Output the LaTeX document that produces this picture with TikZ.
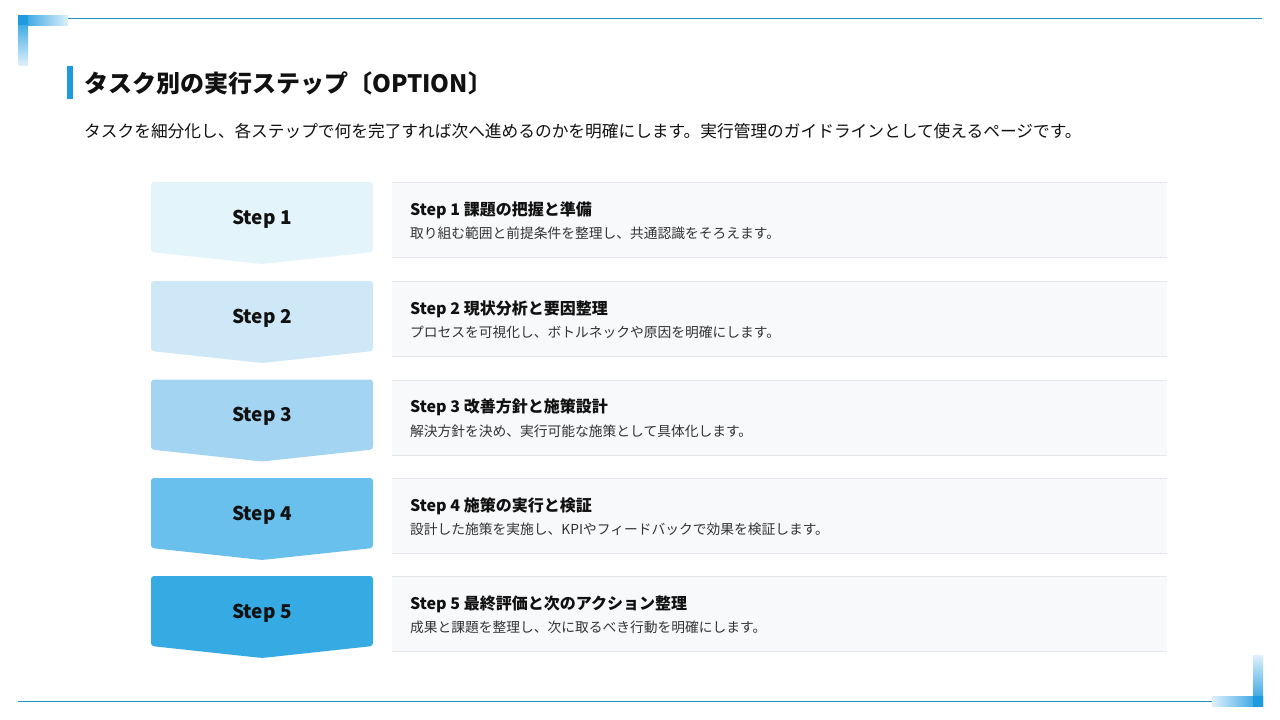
\documentclass[tikz,border=0pt]{standalone}
\usepackage{fontspec}
\setmainfont{Noto Sans CJK JP}
\definecolor{accent}{HTML}{1E9BDF}
\definecolor{rule}{HTML}{1B93C8}
\definecolor{lite}{HTML}{DDF0FB}
\definecolor{cA}{HTML}{E3F4FA}
\definecolor{cB}{HTML}{CFE8F7}
\definecolor{cC}{HTML}{A3D5F2}
\definecolor{cD}{HTML}{6AC0EC}
\definecolor{cE}{HTML}{36AAE3}
\definecolor{boxfill}{HTML}{F8F9FB}
\definecolor{boxline}{HTML}{E4E7EB}
\definecolor{ink}{HTML}{111111}
\definecolor{soft}{HTML}{333333}
\tikzset{
  chevron/.style={rounded corners=3pt},
  steplabel/.style={font=\bfseries\fontsize{19}{22}\selectfont, text=ink, anchor=base, inner sep=0},
  boxtitle/.style={font=\bfseries\fontsize{16}{19}\selectfont, text=ink, anchor=base west, inner sep=0},
  boxdesc/.style={font=\fontsize{13.75}{16}\selectfont, text=soft, anchor=base west, inner sep=0},
}
\begin{document}
\begin{tikzpicture}[x=1pt,y=-1pt]
\fill[white] (0,0) rectangle (1280,720);
\useasboundingbox (0,0) rectangle (1280,720);
% corner decorations
\shade[left color=accent, right color=lite] (18,15) rectangle (68,25);
\shade[top color=accent, bottom color=lite] (18,15) rectangle (28,65);
\fill[accent] (18,15) rectangle (28,25);
\draw[rule, line width=1pt] (68,18) -- (1262,18);
\shade[right color=accent, left color=lite] (1212,696) rectangle (1263,706);
\shade[bottom color=accent, top color=lite] (1253,655) rectangle (1263,706);
\fill[accent] (1253,696) rectangle (1263,706);
\draw[rule, line width=1pt] (18,701) -- (1212,701);
% title
\fill[accent] (67,66) rectangle (73,99);
\node[anchor=west, inner sep=0, font=\bfseries\fontsize{24}{28}\selectfont, text=ink] (title) at (84,83) {タスク別の実行ステップ〔OPTION〕};
\node[anchor=west, inner sep=0, font=\fontsize{16.7}{20}\selectfont, text=ink] (sub) at (84,131.5) {タスクを細分化し、各ステップで何を完了すれば次へ進めるのかを明確にします。実行管理のガイドラインとして使えるページです。};
% steps
\foreach \n/\t/\c/\ti/\de in {
 1/182/cA/課題の把握と準備/取り組む範囲と前提条件を整理し、共通認識をそろえます。,
 2/281/cB/現状分析と要因整理/プロセスを可視化し、ボトルネックや原因を明確にします。,
 3/379.5/cC/改善方針と施策設計/解決方針を決め、実行可能な施策として具体化します。,
 4/478/cD/施策の実行と検証/設計した施策を実施し、KPIやフィードバックで効果を検証します。,
 5/576/cE/最終評価と次のアクション整理/成果と課題を整理し、次に取るべき行動を明確にします。}{
  \fill[\c, chevron] (151,\t) -- (373,\t) -- (373,\t+70) -- (262,\t+82) -- (151,\t+70) -- cycle;
  \node[steplabel] (s\n) at (262,\t+42) {Step \n};
  \fill[boxfill] (392,\t+0.5) rectangle (1167,\t+75.5);
  \draw[boxline, line width=1pt] (392,\t+0.5) -- (1167,\t+0.5);
  \draw[boxline, line width=1pt] (392,\t+75.5) -- (1167,\t+75.5);
  \node[boxtitle] (t\n) at (410,\t+33) {Step \n\ \ti};
  \node[boxdesc] (d\n) at (410,\t+56.5) {\de};
}
\end{tikzpicture}
\end{document}
